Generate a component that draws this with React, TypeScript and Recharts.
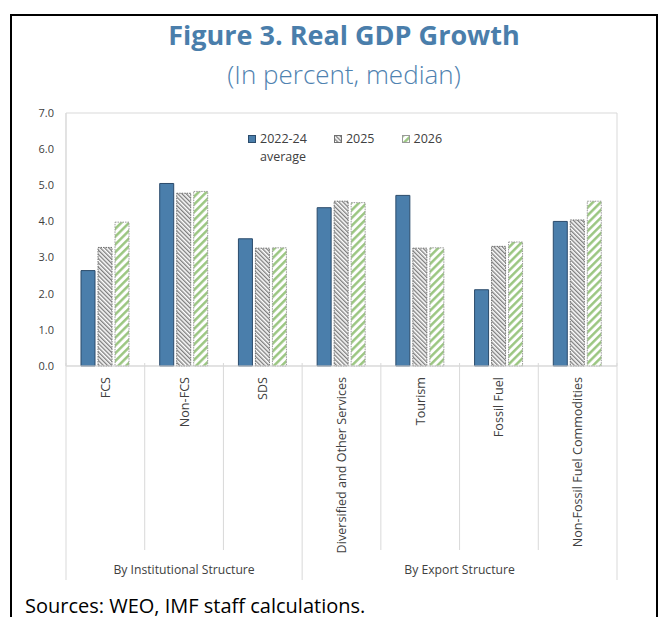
import { BarChart, Bar, XAxis, YAxis, Legend, ReferenceArea } from 'recharts'

const categories = [
  'FCS',
  'Non-FCS',
  'SDS',
  'Diversified and Other Services',
  'Tourism',
  'Fossil Fuel',
  'Non-Fossil Fuel Commodities',
]
const avg2022to24 = [2.64, 5.05, 3.52, 4.38, 4.72, 2.11, 4.0]
const growth2025 = [3.28, 4.78, 3.26, 4.56, 3.26, 3.31, 4.04]
const growth2026 = [3.98, 4.83, 3.27, 4.52, 3.27, 3.43, 4.56]
const seriesNames = ['2022-24\naverage', '2025', '2026']
const groups = [
  { label: 'By Institutional Structure', start: 0, end: 2 },
  { label: 'By Export Structure', start: 3, end: 6 },
]
const yTicks = [0, 1, 2, 3, 4, 5, 6, 7]

const data = categories.map((name, i) => ({
  name,
  avg: avg2022to24[i],
  y2025: growth2025[i],
  y2026: growth2026[i],
}))

const seriesStyle = [
  { key: 'avg', fill: '#4A7EAB', stroke: '#2B4B6B', dash: undefined },
  { key: 'y2025', fill: 'url(#hatchGray)', stroke: '#6f6f6f', dash: '1.5 1' },
  { key: 'y2026', fill: 'url(#hatchGreen)', stroke: '#9a9a9a', dash: '1.5 1' },
]

const GRID = '#d9d9d9'
const TEXT = '#404040'

function CategoryTick(props: any) {
  const { x, y, payload } = props
  const i = payload.index
  const half = payload.offset || 39.35
  const group = groups.find((g) => g.start === i)
  const isLast = i === categories.length - 1
  return (
    <g>
      <line x1={x - half} x2={x - half} y1={y - 3} y2={y + (group ? 214 : 184)} stroke={GRID} />
      {isLast && <line x1={x + half} x2={x + half} y1={y - 3} y2={y + 214} stroke={GRID} />}
      <text
        transform={`translate(${x},${y + 11}) rotate(-90)`}
        textAnchor="end"
        dominantBaseline="central"
        fontSize={12.6}
        fill={TEXT}
      >
        {payload.value}
      </text>
      {group && (
        <text
          x={x + (group.end - group.start) * half}
          y={y + 203}
          textAnchor="middle"
          dominantBaseline="central"
          fontSize={12.2}
          fill={TEXT}
        >
          {group.label}
        </text>
      )}
    </g>
  )
}

function LegendContent() {
  return (
    <div style={{ display: 'flex', alignItems: 'flex-start', fontSize: 12.5, color: TEXT, lineHeight: '18px' }}>
      {seriesStyle.map((s, i) => (
        <div key={s.key} style={{ display: 'flex', alignItems: 'flex-start', marginRight: 27 }}>
          <svg width={8} height={8} style={{ marginTop: 5, marginRight: 4 }}>
            <rect x={0.5} y={0.5} width={7} height={7} fill={s.fill} stroke={s.stroke} strokeWidth={1} />
          </svg>
          <span style={{ whiteSpace: 'pre-line' }}>{seriesNames[i]}</span>
        </div>
      ))}
    </div>
  )
}

export default function App() {
  return (
    <div
      style={{
        position: 'absolute',
        left: 0,
        top: 0,
        width: 662,
        height: 617,
        overflow: 'hidden',
        background: '#fff',
        fontFamily: '"Open Sans", sans-serif',
      }}
    >
      <div
        style={{
          position: 'absolute',
          left: 10,
          top: 14,
          width: 644,
          height: 700,
          border: '2px solid #000',
        }}
      />
      <div
        style={{
          position: 'absolute',
          left: 0,
          top: 21,
          width: 688,
          textAlign: 'center',
          fontSize: 27,
          lineHeight: 1,
          fontWeight: 700,
          color: '#4A7EAB',
        }}
      >
        Figure 3. Real GDP Growth
      </div>
      <div
        style={{
          position: 'absolute',
          left: 0,
          top: 61,
          width: 688,
          textAlign: 'center',
          fontSize: 26,
          lineHeight: 1,
          fontWeight: 300,
          color: '#4F82B0',
        }}
      >
        (In percent, median)
      </div>
      <div style={{ position: 'absolute', left: 0, top: 0 }}>
        <BarChart
          width={662}
          height={617}
          data={data}
          margin={{ top: 113, right: 45, left: 10, bottom: 67 }}
          barSize={14}
          barGap={3}
        >
          <defs>
            <pattern id="hatchGray" patternUnits="userSpaceOnUse" width={3} height={3} patternTransform="rotate(-45)">
              <rect width={3} height={3} fill="#fff" />
              <line x1={0.75} y1={0} x2={0.75} y2={3} stroke="#5f5f5f" strokeWidth={1.1} />
            </pattern>
            <pattern id="hatchGreen" patternUnits="userSpaceOnUse" width={5.5} height={5.5} patternTransform="rotate(45)">
              <rect width={5.5} height={5.5} fill="#fff" />
              <line x1={1.3} y1={0} x2={1.3} y2={5.5} stroke="#97C47C" strokeWidth={2.4} />
            </pattern>
          </defs>
          <ReferenceArea y1={0} y2={7} fill="none" stroke={GRID} strokeWidth={1} ifOverflow="visible" />
          <XAxis
            dataKey="name"
            height={184}
            interval={0}
            tickSize={0}
            tickMargin={0}
            tickLine={false}
            axisLine={{ stroke: GRID }}
            tick={<CategoryTick />}
          />
          <YAxis
            width={56}
            domain={[0, 7]}
            ticks={yTicks}
            tickFormatter={(v: number) => v.toFixed(1)}
            tickLine={false}
            tickSize={6}
            tickMargin={6}
            axisLine={{ stroke: GRID }}
            tick={{ fill: TEXT, fontSize: 11 }}
          />
          <Legend
            layout="horizontal"
            verticalAlign="middle"
            align="center"
            wrapperStyle={{ top: 130, left: 248, width: 'auto' }}
            content={<LegendContent />}
          />
          {seriesStyle.map((s, i) => (
            <Bar
              key={s.key}
              dataKey={s.key}
              name={seriesNames[i]}
              fill={s.fill}
              stroke={s.stroke}
              strokeWidth={1}
              strokeDasharray={s.dash}
              isAnimationActive={false}
            />
          ))}
        </BarChart>
      </div>
      <div
        style={{
          position: 'absolute',
          left: 25,
          top: 596,
          fontSize: 20,
          lineHeight: 1,
          color: '#000',
          whiteSpace: 'nowrap',
        }}
      >
        Sources: WEO, IMF staff calculations.
      </div>
    </div>
  )
}
